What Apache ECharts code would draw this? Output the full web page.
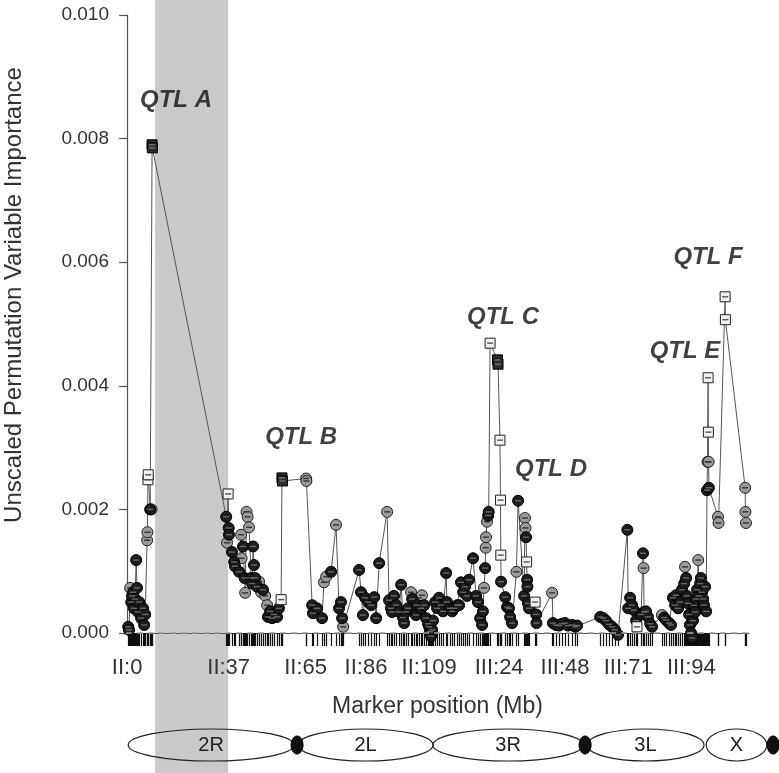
<!DOCTYPE html>
<html><head><meta charset="utf-8">
<script src="https://cdn.jsdelivr.net/npm/echarts@6/dist/echarts.min.js"></script>
<style>html,body{margin:0;padding:0;background:#fff}#c{width:779px;height:773px}</style>
</head><body><div id="c"></div>
<script>
// Marker positions (cumulative Mb), importance values and marker style types
const markerPos = [0.4,0.7,1.1,1.5,1.8,2.2,2.5,2.9,3.3,3.6,4.0,4.4,5.1,5.8,6.2,6.6,7.3,7.4,7.6,7.7,8.4,8.9,9.1,9.2,
36.1,36.4,36.8,37.0,37.1,38.2,39.0,39.3,40.8,41.5,41.7,42.2,42.8,43.0,43.5,43.9,44.4,45.2,45.5,45.9,46.2,46.6,47.3,48.1,48.8,49.5,50.3,51.0,51.3,52.1,52.8,53.5,54.6,55.3,56.1,56.4,56.6,
65.2,65.3,67.4,67.7,69.2,71.0,71.7,72.5,74.3,76.1,77.2,77.9,78.3,78.7,84.5,85.2,85.9,86.7,87.8,88.9,90.0,90.7,91.8,94.7,95.4,96.1,96.5,97.2,98.0,99.1,99.8,100.5,100.9,101.6,102.3,103.4,103.8,104.5,105.2,105.6,106.3,107.1,107.4,108.2,108.9,109.6,110.0,110.3,110.7,111.1,111.4,
112.2,112.9,113.6,114.3,115.1,116.2,116.5,117.6,118.4,119.1,120.2,120.9,121.6,122.4,123.1,123.8,124.5,126.0,127.1,127.8,128.6,129.3,129.6,130.0,130.4,130.6,130.7,131.1,131.5,131.7,132.2,134.9,135.1,135.8,136.0,136.1,136.2,137.7,138.4,139.1,139.5,140.2,141.8,142.4,144.6,144.9,145.1,145.3,145.5,145.7,145.8,146.0,146.4,148.6,149.0,149.1,
154.8,155.1,156.2,157.3,158.4,159.5,160.6,162.1,163.2,163.9,172.3,173.4,174.4,175.5,176.6,177.7,178.8,182.2,182.5,183.2,183.9,184.6,185.4,185.7,187.2,187.9,188.1,188.3,189.0,189.7,190.5,191.2,
194.8,195.6,196.3,197.4,198.1,198.8,199.6,199.9,200.7,201.4,202.1,202.9,203.2,203.6,203.9,204.3,204.7,205.0,205.4,205.8,206.1,206.5,206.9,207.2,207.6,208.0,208.3,208.7,209.0,209.4,209.8,210.1,210.5,210.9,
211.2,211.4,211.6,211.7,211.8,211.9,215.2,215.4,217.8,217.9,225.1,225.2,225.4];
const importance = [0.00010,0.00005,0.00073,0.00050,0.00060,0.00066,0.00040,0.00055,0.00118,0.00073,0.00034,0.00050,0.00024,0.00040,0.00013,0.00030,0.00150,0.00163,0.00248,0.00256,0.00200,0.00200,0.00790,0.00785,
0.00188,0.00146,0.00225,0.00170,0.00159,0.00131,0.00115,0.00108,0.00099,0.00159,0.00121,0.00140,0.00089,0.00065,0.00196,0.00188,0.00171,0.00089,0.00080,0.00140,0.00110,0.00089,0.00075,0.00083,0.00066,0.00070,0.00060,0.00045,0.00026,0.00035,0.00024,0.00030,0.00026,0.00040,0.00054,0.00251,0.00246,
0.00250,0.00246,0.00045,0.00032,0.00040,0.00024,0.00082,0.00091,0.00099,0.00175,0.00040,0.00050,0.00024,0.00010,0.00102,0.00066,0.00029,0.00057,0.00050,0.00045,0.00058,0.00024,0.00113,0.00196,0.00053,0.00040,0.00034,0.00060,0.00045,0.00034,0.00078,0.00025,0.00016,0.00034,0.00040,0.00066,0.00055,0.00050,0.00029,0.00045,0.00057,0.00040,0.00061,0.00045,0.00024,0.00015,0.00010,0.00002,-0.00005,0.00005,0.00020,
0.00050,0.00040,0.00057,0.00045,0.00035,0.00097,0.00050,0.00040,0.00035,0.00040,0.00045,0.00045,0.00082,0.00066,0.00075,0.00060,0.00086,0.00121,0.00060,0.00050,0.00024,0.00013,0.00035,0.00073,0.00105,0.00138,0.00155,0.00180,0.00190,0.00196,0.00469,0.00442,0.00435,0.00312,0.00215,0.00126,0.00083,0.00058,0.00042,0.00040,0.00026,0.00016,0.00099,0.00214,0.00060,0.00186,0.00170,0.00155,0.00115,0.00086,0.00075,0.00048,0.00040,0.00050,0.00030,0.00016,
0.00065,0.00016,0.00013,0.00012,0.00015,0.00016,0.00012,0.00013,0.00010,0.00012,0.00026,0.00024,0.00020,0.00014,0.00010,0.00005,-0.00003,0.00167,0.00040,0.00057,0.00045,0.00037,0.00020,0.00010,0.00030,0.00129,0.00105,0.00034,0.00035,0.00026,0.00015,0.00010,
0.00029,0.00025,0.00021,0.00016,0.00013,0.00057,0.00045,0.00061,0.00040,0.00050,0.00070,0.00080,0.00107,0.00089,0.00060,0.00048,0.00030,0.00013,0.00000,-0.00008,0.00020,0.00045,0.00034,0.00055,0.00070,0.00118,0.00060,0.00080,0.00089,0.00066,0.00055,0.00045,0.00075,0.00035,
0.00231,0.00277,0.00413,0.00325,0.00277,0.00235,0.00188,0.00178,0.00544,0.00507,0.00235,0.00196,0.00178];
const markerType = ['b','b','g','b','b','b','b','b','b','b','b','b','b','b','b','b','g','g','s','s','b','g','k','k',
'b','g','s','b','b','b','b','b','b','g','g','b','b','g','g','g','g','b','b','b','b','b','b','g','g','b','g','g','b','b','b','b','b','b','s','k','k',
'g','g','b','b','b','b','g','g','b','g','b','b','b','g','b','b','b','b','b','b','b','b','b','g','b','b','b','b','b','b','b','b','b','b','b','g','b','g','b','b','g','b','g','b','b','b','b','b','b','b','b',
'b','b','b','b','b','b','b','b','b','b','b','b','b','b','b','b','b','b','b','b','b','b','b','g','b','g','g','g','b','b','s','k','k','s','s','s','b','b','b','b','b','b','g','b','b','g','g','b','s','b','b','b','b','s','b','b',
'g','b','b','b','b','b','b','b','b','b','b','b','b','b','b','b','b','b','b','b','b','b','b','s','b','b','g','b','b','b','b','b',
'g','b','b','b','b','b','b','b','b','b','b','b','g','b','b','b','b','b','b','b','b','b','b','b','b','g','b','b','b','b','b','b','b','b',
'b','g','s','s','g','b','g','g','s','s','g','g','g'];

const tickPos = [0, 37, 65, 87, 110, 135.5, 159.5, 182.5, 205.5];
const tickLabels = ['II:0','II:37','II:65','II:86','II:109','III:24','III:48','III:71','III:94'];
const threshold = 0.002;
const bandRange = [10.2, 36.8];
const qtlNames = ['QTL A','QTL B','QTL C','QTL D','QTL E','QTL F'];
const qtlPos = [17.8, 63.4, 136.9, 154.4, 203.2, 211.6];
const qtlVal = [0.00862, 0.00316, 0.00510, 0.00264, 0.00455, 0.00608];
const armNames = ['2R','2L','3R','3L','X'];
const armStart = [0.4, 62.3, 111.4, 167.5, 210.9];
const armEnd = [60.8, 111.4, 166.1, 210.1, 233.0];
const centromeres = [61.9, 166.8, 235.3];
const yTitle = 'Unscaled Permutation Variable Importance';

const FONT = '"Liberation Sans", Arial, Helvetica, sans-serif';
const chart = echarts.init(document.getElementById('c'), null, {renderer: 'canvas'});

const styleOf = {
  b: {symbol: 'circle', size: 11, fill: '#1c1c1c', stroke: '#000', inner: '#6a6a6a'},
  g: {symbol: 'circle', size: 11, fill: '#9a9a9a', stroke: '#222', inner: '#333'},
  s: {symbol: 'rect', size: 10, fill: '#f2f2f2', stroke: '#222', inner: '#555'},
  k: {symbol: 'rect', size: 10, fill: '#2a2a2a', stroke: '#000', inner: '#777'}
};
const linePts = markerPos.map((x, i) => [x, importance[i]]);
function pick(t) {
  return markerPos.map((x, i) => markerType[i] === t ? [x, importance[i]] : null).filter(d => d);
}
function scatterFor(t, z) {
  const st = styleOf[t];
  return [{
    type: 'scatter', z: z, silent: true, animation: false,
    symbol: st.symbol, symbolSize: st.size,
    itemStyle: {color: st.fill, borderColor: st.stroke, borderWidth: 1, opacity: 1},
    data: pick(t), clip: false
  }, {
    type: 'scatter', z: z, silent: true, animation: false,
    symbol: 'rect', symbolSize: [6, 1.4],
    itemStyle: {color: st.inner, opacity: 1},
    data: pick(t), clip: false
  }];
}

const option = {
  animation: false,
  backgroundColor: '#fff',
  grid: {left: 126, right: 30, top: 15, bottom: 140, containLabel: false},
  xAxis: {
    type: 'value', min: -0.4, max: 226.5,
    axisLine: {show: true, onZero: false, lineStyle: {color: '#555', width: 1.2}},
    axisTick: {show: true, customValues: markerPos, length: 13, inside: false, lineStyle: {color: '#111', width: 1.2}},
    axisLabel: {
      customValues: tickPos, margin: 24, fontSize: 22, color: '#333', fontFamily: FONT,
      formatter: v => { const i = tickPos.findIndex(p => Math.abs(p - v) < 1e-6); return i >= 0 ? tickLabels[i] : ''; }
    },
    splitLine: {show: false},
    name: 'Marker position (Mb)', nameLocation: 'middle', nameGap: 62,
    nameTextStyle: {fontSize: 23, color: '#333', fontFamily: FONT}
  },
  yAxis: {
    type: 'value', min: 0, max: 0.01, interval: 0.002,
    axisLine: {show: true, lineStyle: {color: '#555', width: 1.2}},
    axisTick: {show: true, length: 8, lineStyle: {color: '#555', width: 1.2}},
    axisLabel: {formatter: v => v.toFixed(3), fontSize: 19, color: '#333', margin: 17, fontFamily: FONT},
    splitLine: {show: false}
  },
  series: [
    {
      type: 'line', data: linePts, symbol: 'none', z: 2, silent: true, clip: false,
      lineStyle: {color: '#555', width: 1},
      markLine: {
        silent: true, symbol: 'none', label: {show: false},
        lineStyle: {color: '#999', type: [6, 5], width: 1.5},
        data: [{yAxis: threshold}]
      }
    },
    ...scatterFor('g', 3),
    ...scatterFor('b', 4),
    ...scatterFor('s', 5),
    ...scatterFor('k', 5),
    {
      type: 'scatter', z: 6, silent: true, symbolSize: 0,
      data: qtlPos.map((x, i) => [x, qtlVal[i], qtlNames[i]]),
      label: {show: true, position: 'inside', formatter: p => p.data[2], fontSize: 24, fontWeight: 'bold', fontStyle: 'italic', color: '#111', fontFamily: FONT}
    }
  ]
};
chart.setOption(option);

const px = v => chart.convertToPixel({xAxisIndex: 0}, v);
const H = 773, cy = 745, ry = 16;
const graphics = [];
graphics.push({type: 'rect', z: -1, silent: true,
  shape: {x: px(bandRange[0]), y: 0, width: px(bandRange[1]) - px(bandRange[0]), height: H},
  style: {fill: '#c9c9c9'}});
graphics.push({type: 'text', z: 11, silent: true, x: 14, y: 295, rotation: Math.PI / 2,
  style: {text: yTitle, fill: '#333', font: '24px ' + FONT, textAlign: 'center', textVerticalAlign: 'middle'}});
armNames.forEach((n, i) => {
  const a = px(armStart[i]), b = px(armEnd[i]);
  graphics.push({type: 'ellipse', z: 10, silent: true,
    shape: {cx: (a + b) / 2, cy: cy, rx: (b - a) / 2, ry: ry},
    style: {fill: null, stroke: '#222', lineWidth: 1.2}});
  graphics.push({type: 'text', z: 11, silent: true,
    x: (a + b) / 2, y: cy,
    style: {text: n, fill: '#222', font: '20px ' + FONT, textAlign: 'center', textVerticalAlign: 'middle'}});
});
centromeres.forEach(c => {
  graphics.push({type: 'ellipse', z: 12, silent: true,
    shape: {cx: px(c), cy: cy, rx: 6, ry: 9},
    style: {fill: '#111', stroke: '#000', lineWidth: 1}});
});
chart.setOption({graphic: graphics});
</script>
</body></html>
